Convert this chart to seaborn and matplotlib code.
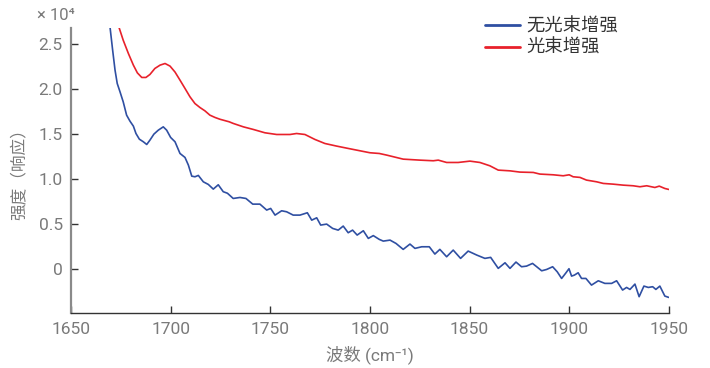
import matplotlib
matplotlib.use("Agg")
import matplotlib.pyplot as plt
import matplotlib.ticker as mticker
import pandas as pd
import seaborn as sns

# Wavenumber (cm^-1) and intensity (x 10^4) for the two measurements
wn_no_boost = [1669.6, 1670.9, 1672.1, 1673.2, 1674.6, 1676.2, 1677.9, 1679.6, 1681.3, 1682.6,
               1684.3, 1686.3, 1688.0, 1689.6, 1691.6, 1693.8, 1696.3, 1698.0, 1700.0, 1702.2,
               1704.7, 1707.2, 1708.9, 1710.6, 1712.2, 1713.9, 1716.4, 1718.9, 1721.4, 1723.9,
               1726.4, 1728.5, 1731.4, 1734.8, 1737.8, 1741.2, 1744.8, 1748.2, 1750.2, 1752.4,
               1755.7, 1758.2, 1761.5, 1764.9, 1768.6, 1770.8, 1773.3, 1775.3, 1778.3, 1781.3,
               1784.1, 1786.6, 1789.1, 1791.3, 1793.6, 1796.7, 1799.2, 1801.7, 1804.7, 1806.7,
               1810.1, 1813.1, 1816.7, 1820.1, 1822.6, 1826.0, 1829.8, 1832.6, 1835.1, 1838.5,
               1841.8, 1845.5, 1849.3, 1853.6, 1857.7, 1860.6, 1864.4, 1867.8, 1870.3, 1873.3,
               1876.1, 1878.6, 1881.6, 1883.7, 1886.2, 1888.7, 1891.7, 1894.0, 1896.2, 1898.4,
               1899.9, 1901.2, 1902.6, 1904.5, 1906.2, 1908.4, 1911.2, 1914.6, 1917.9, 1921.3,
               1923.8, 1926.8, 1928.8, 1930.5, 1933.0, 1935.1, 1937.5, 1939.7, 1941.9, 1943.5,
               1945.5, 1948.0, 1950.0]
int_no_boost = [2.686, 2.433, 2.211, 2.063, 1.970, 1.859, 1.711, 1.644, 1.589, 1.507,
                1.444, 1.415, 1.385, 1.433, 1.500, 1.544, 1.581, 1.544, 1.463, 1.415,
                1.285, 1.241, 1.156, 1.033, 1.026, 1.041, 0.970, 0.941, 0.889, 0.937,
                0.860, 0.843, 0.785, 0.796, 0.785, 0.722, 0.722, 0.656, 0.674, 0.600,
                0.648, 0.637, 0.600, 0.600, 0.626, 0.544, 0.570, 0.489, 0.500, 0.452,
                0.433, 0.478, 0.404, 0.433, 0.378, 0.426, 0.341, 0.372, 0.330, 0.311,
                0.322, 0.285, 0.219, 0.278, 0.230, 0.248, 0.248, 0.167, 0.219, 0.137,
                0.211, 0.119, 0.200, 0.156, 0.119, 0.130, 0.008, 0.070, 0.008, 0.078,
                0.026, 0.033, 0.063, 0.026, -0.019, -0.004, 0.026, -0.030, -0.104, -0.041,
                0.004, -0.078, -0.067, -0.041, -0.104, -0.104, -0.178, -0.130, -0.159, -0.159,
                -0.130, -0.233, -0.204, -0.226, -0.167, -0.307, -0.189, -0.204, -0.196, -0.226,
                -0.189, -0.300, -0.315]

wn_boost = [1674.1, 1676.2, 1678.8, 1681.3, 1683.3, 1685.5, 1687.6, 1689.6, 1692.1, 1694.7,
            1697.2, 1699.7, 1702.2, 1704.7, 1707.2, 1709.7, 1712.2, 1714.7, 1717.2, 1719.7,
            1722.3, 1724.8, 1729.4, 1731.4, 1736.5, 1741.5, 1747.3, 1753.2, 1759.9, 1763.2,
            1767.4, 1772.4, 1777.4, 1783.3, 1789.1, 1795.0, 1800.0, 1804.7, 1808.4, 1816.7,
            1825.1, 1831.8, 1834.3, 1838.5, 1844.3, 1850.2, 1855.2, 1860.2, 1864.4, 1870.3,
            1875.3, 1882.0, 1885.3, 1892.0, 1897.0, 1900.0, 1902.0, 1905.4, 1908.7, 1913.8,
            1917.1, 1922.1, 1927.1, 1932.1, 1935.5, 1938.9, 1943.0, 1945.2, 1948.0, 1950.0]
int_boost = [2.686, 2.544, 2.396, 2.267, 2.181, 2.130, 2.130, 2.163, 2.230, 2.267,
             2.285, 2.256, 2.190, 2.100, 2.008, 1.915, 1.840, 1.796, 1.759, 1.711,
             1.685, 1.665, 1.637, 1.619, 1.581, 1.552, 1.515, 1.496, 1.496, 1.507,
             1.496, 1.441, 1.396, 1.367, 1.341, 1.315, 1.293, 1.285, 1.267, 1.222,
             1.211, 1.204, 1.211, 1.185, 1.185, 1.200, 1.185, 1.148, 1.100, 1.092,
             1.078, 1.074, 1.056, 1.048, 1.037, 1.048, 1.026, 1.019, 0.989, 0.970,
             0.952, 0.944, 0.933, 0.926, 0.915, 0.926, 0.907, 0.922, 0.896, 0.885]

series_names = ["无光束增强", "光束增强"]
series_colors = ["#2f4fa2", "#e8212b"]
x_ticks = [1650, 1700, 1750, 1800, 1850, 1900, 1950]
y_ticks = [0, 0.5, 1.0, 1.5, 2.0, 2.5]

df = pd.concat([
    pd.DataFrame({"wn": wn_no_boost, "val": int_no_boost, "series": series_names[0]}),
    pd.DataFrame({"wn": wn_boost, "val": int_boost, "series": series_names[1]}),
])

sns.set_theme(style="white")
plt.rcParams["font.family"] = ["Roboto", "Noto Sans CJK SC", "DejaVu Sans"]

fig = plt.figure(figsize=(7.1, 3.68), dpi=100)
ax = fig.add_axes([0.1, 0.149, 0.842, 0.775])

sns.lineplot(data=df, x="wn", y="val", hue="series", hue_order=series_names,
             palette=series_colors, linewidth=1.2, sort=False, ax=ax)
for ln in ax.get_lines():
    ln.set_solid_joinstyle("round")

ax.set_xlim(1650, 1950)
ax.set_ylim(-0.49, 2.68)
ax.set_xticks(x_ticks)
ax.set_yticks(y_ticks)
ax.yaxis.set_major_formatter(mticker.FuncFormatter(lambda v, p: "0" if abs(v) < 1e-9 else f"{v:.1f}"))

grey = "#7a7a7a"
for side in ["top", "right"]:
    ax.spines[side].set_visible(False)
ax.spines["left"].set_color("#8a8a8a")
ax.spines["left"].set_linewidth(1.6)
ax.spines["bottom"].set_color("#333333")
ax.spines["bottom"].set_linewidth(1.0)
ax.tick_params(axis="both", direction="in", length=5, width=1, colors="#333333",
               labelcolor=grey, labelsize=12.5, pad=6, left=True, bottom=True)

ax.set_xlabel("波数 (cm⁻¹)", color=grey, fontsize=12.5, labelpad=6)
ax.set_ylabel("强度（响应）", color=grey, fontsize=12, labelpad=8)

fig.text(37 / 710, 1 - 16 / 368, "× 10⁴", color=grey, fontsize=12, va="center", ha="left")

leg = ax.legend(loc="upper left", bbox_to_anchor=(0.665, 1.095), frameon=False,
                fontsize=13.2, handlelength=1.9, handletextpad=0.35, labelspacing=0.2)
for t in leg.get_texts():
    t.set_color("#333333")
for line in leg.get_lines():
    line.set_linewidth(2.0)

fig.savefig("out.png", dpi=100)
